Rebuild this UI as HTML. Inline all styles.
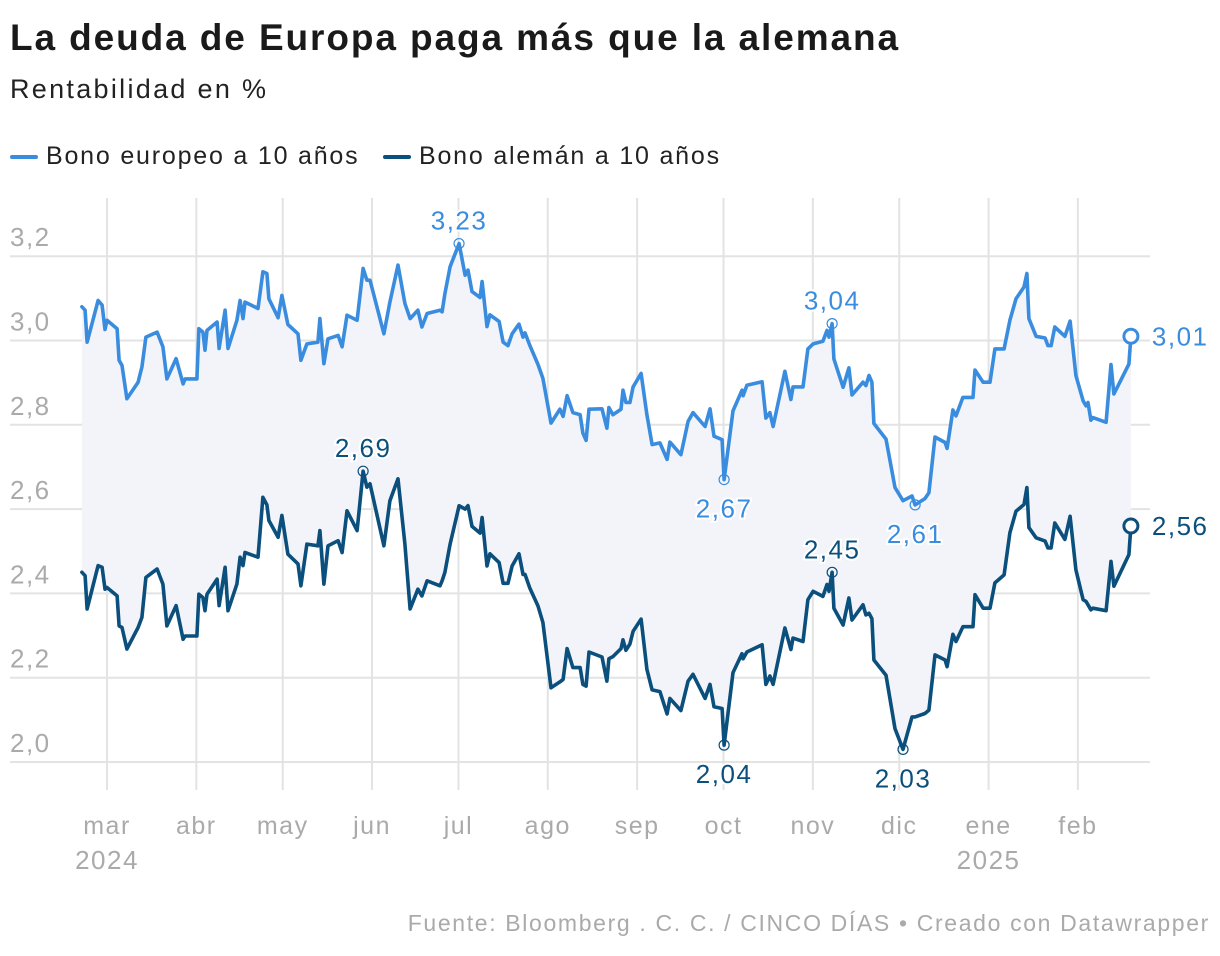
<!DOCTYPE html>
<html><head><meta charset="utf-8">
<style>
body{margin:0;background:#fff;font-family:"Liberation Sans",Arial,sans-serif;}
#wrap{position:relative;width:1220px;height:956px;overflow:hidden;}
h1{position:absolute;left:10px;top:17px;margin:0;font-size:37px;font-weight:bold;color:#1a1a1a;letter-spacing:1.9px}
.sub{position:absolute;left:10px;top:74px;font-size:27px;color:#222;letter-spacing:2.3px}
.leg{position:absolute;top:142px;font-size:25px;color:#222;display:flex;align-items:center;letter-spacing:1.8px}
.sw{display:inline-block;width:28px;height:4px;margin-right:8px;border-radius:2px}
.foot{position:absolute;right:10px;top:910px;font-size:23px;color:#aaa;letter-spacing:1.65px}
</style></head><body>
<div id="wrap">
<h1>La deuda de Europa paga más que la alemana</h1>
<div class="sub">Rentabilidad en %</div>
<div class="leg" style="left:10px"><span class="sw" style="background:#3a8dde"></span>Bono europeo a 10 años</div>
<div class="leg" style="left:383px"><span class="sw" style="background:#0b4f7c"></span>Bono alemán a 10 años</div>
<svg id="chart" width="1220" height="956" style="position:absolute;left:0;top:0"></svg>
<div class="foot">Fuente: Bloomberg . C. C. / CINCO DÍAS • Creado con Datawrapper</div>
</div>
<script>
const days=[-8.7,-7.6,-6.9,-3.1,-1.7,-0.7,0,3.5,4.2,5.2,6.9,10.8,12.1,13.5,17.4,19.4,20.8,24.0,26.4,27.1,31.2,31.9,33.3,34.0,34.7,38.2,38.9,41.0,42.0,45.1,46.2,47.2,47.9,52.4,54.1,55.5,56.2,59.4,60.7,62.8,66.3,67.3,69.4,73.2,73.9,75.3,76.7,80.2,81.6,83.3,86.8,88.9,90.2,91.3,96.1,98.2,101.0,103.4,105.2,107.9,109.3,111.1,115.6,116.3,117.3,119.1,122.2,124.3,125.3,126.7,129.5,130.2,131.9,132.9,136.1,137.5,139.2,140.6,143.0,144.4,145.1,146.8,149.6,151.3,154.1,157.2,158.3,159.7,161.7,164.2,165.2,166.3,167.3,171.8,173.5,174.2,175.6,178.4,179.1,180.1,181.5,182.6,185.4,187.4,189.2,191.9,194.4,195.4,199.2,201.7,203.4,207.6,209.3,210.7,213.5,214.2,217.3,220.4,220.8,222.1,227.4,228.7,230.1,231.2,235.3,237.4,238.1,241.6,243.3,245.1,248.5,249.9,250.6,251.7,252.3,255.5,257.5,258.6,262.4,263.4,264.5,265.5,266.2,270.4,273.5,276.3,279.4,280.5,283.9,285.3,287.4,290.9,291.6,293.6,294.7,297.1,300.6,301.3,304.1,306.5,308.2,311.4,313.4,315.5,318.3,319.3,320.0,322.5,325.6,326.6,327.7,329.0,332.5,334.3,336.3,338.8,339.8,340.5,341.5,342.2,346.8,348.5,349.5,354.7,355.4];
const euro=[3.080,3.072,2.996,3.095,3.084,3.026,3.048,3.028,2.953,2.941,2.862,2.901,2.937,3.008,3.020,2.985,2.909,2.957,2.897,2.909,2.909,3.028,3.020,2.977,3.024,3.044,2.981,3.072,2.981,3.048,3.095,3.052,3.091,3.076,3.163,3.159,3.099,3.054,3.107,3.038,3.016,2.953,2.992,2.996,3.052,2.945,3.004,3.012,2.985,3.060,3.048,3.171,3.143,3.143,3.016,3.091,3.179,3.088,3.052,3.072,3.032,3.064,3.072,3.068,3.111,3.175,3.23,3.155,3.167,3.116,3.102,3.140,3.033,3.061,3.045,2.996,2.988,3.016,3.039,3.008,3.018,2.988,2.943,2.910,2.804,2.837,2.820,2.869,2.829,2.824,2.780,2.763,2.837,2.838,2.792,2.841,2.824,2.837,2.882,2.853,2.853,2.890,2.922,2.824,2.753,2.757,2.718,2.759,2.729,2.808,2.829,2.796,2.838,2.773,2.765,2.67,2.833,2.882,2.869,2.894,2.902,2.816,2.829,2.796,2.927,2.860,2.890,2.890,2.980,2.992,2.998,3.024,3.008,3.04,2.956,2.889,2.935,2.871,2.901,2.893,2.917,2.901,2.803,2.766,2.651,2.620,2.631,2.61,2.625,2.639,2.771,2.758,2.744,2.835,2.821,2.865,2.865,2.930,2.901,2.901,2.980,2.980,3.048,3.099,3.127,3.159,3.052,3.010,3.006,2.988,2.988,3.032,3.010,3.046,2.917,2.857,2.845,2.853,2.811,2.817,2.806,2.943,2.873,2.944,3.01];
const bund=[2.450,2.442,2.363,2.466,2.462,2.410,2.414,2.394,2.323,2.319,2.268,2.319,2.343,2.438,2.458,2.422,2.323,2.371,2.291,2.299,2.299,2.398,2.390,2.359,2.398,2.434,2.371,2.462,2.359,2.422,2.486,2.466,2.497,2.486,2.628,2.610,2.573,2.533,2.585,2.493,2.470,2.418,2.517,2.513,2.549,2.422,2.513,2.525,2.497,2.596,2.549,2.69,2.652,2.660,2.513,2.620,2.672,2.517,2.363,2.410,2.394,2.430,2.418,2.430,2.450,2.517,2.608,2.600,2.608,2.559,2.543,2.580,2.465,2.494,2.473,2.424,2.424,2.465,2.494,2.445,2.445,2.412,2.370,2.331,2.176,2.190,2.196,2.269,2.224,2.224,2.184,2.180,2.261,2.249,2.192,2.245,2.250,2.269,2.290,2.265,2.280,2.310,2.339,2.220,2.171,2.167,2.114,2.151,2.122,2.192,2.208,2.151,2.184,2.131,2.127,2.04,2.212,2.257,2.245,2.261,2.278,2.184,2.204,2.184,2.318,2.267,2.294,2.286,2.385,2.405,2.393,2.421,2.405,2.45,2.365,2.325,2.389,2.337,2.373,2.349,2.353,2.340,2.242,2.206,2.079,2.03,2.107,2.107,2.115,2.123,2.254,2.242,2.226,2.303,2.286,2.321,2.321,2.397,2.365,2.365,2.425,2.444,2.544,2.595,2.611,2.651,2.556,2.532,2.524,2.508,2.508,2.567,2.528,2.583,2.456,2.385,2.381,2.373,2.361,2.365,2.359,2.476,2.417,2.492,2.56];
const yTicks=[2.0,2.2,2.4,2.6,2.8,3.0,3.2];
const yTickLabels=["2,0","2,2","2,4","2,6","2,8","3,0","3,2"];
const monthDays=[0,31,61,92,122,153,184,214,245,275,306,337];
const monthLabels=["mar","abr","may","jun","jul","ago","sep","oct","nov","dic","ene","feb"];
const euroNotes=[[122.2,3.23,"3,23","above"],[214.2,2.67,"2,67","below"],[251.7,3.04,"3,04","above"],[280.5,2.61,"2,61","below"]];
const bundNotes=[[88.9,2.69,"2,69","above"],[214.2,2.04,"2,04","below"],[251.7,2.45,"2,45","above"],[276.3,2.03,"2,03","below"]];

const X=d=>107+d*2.881;
const Y=v=>762-(v-2.0)*421.5;
const svg=document.getElementById('chart');
const NS='http://www.w3.org/2000/svg';
function mk(tag,attrs,parent){const e=document.createElementNS(NS,tag);for(const k in attrs)e.setAttribute(k,attrs[k]);(parent||svg).appendChild(e);return e;}

yTicks.forEach((t,i)=>{
  const l=mk('line',{x1:10,x2:1150,y1:Y(t),y2:Y(t),stroke:'#e3e3e3','stroke-width':2});
  
  
  const tx=mk('text',{x:10,y:Y(t)-10,'font-size':26,fill:'#aaa','letter-spacing':1.5});
  tx.textContent=yTickLabels[i];
  
  
});
monthDays.forEach((d,i)=>{
  const l=mk('line',{x1:X(d),x2:X(d),y1:198,y2:790,stroke:'#e3e3e3','stroke-width':2});
  
  
  const tx=mk('text',{x:X(d),y:834,'font-size':25,fill:'#aaa','text-anchor':'middle','letter-spacing':1.5});
  tx.textContent=monthLabels[i];
  
  
});
[[0,"2024"],[306,"2025"]].forEach(([d,s])=>{
  const tx=mk('text',{x:X(d),y:869,'font-size':26,fill:'#aaa','text-anchor':'middle','letter-spacing':1.5});
  tx.textContent=s;
  
  
});
let ap='';
days.forEach((d,i)=>{ap+=(i?'L':'M')+X(d).toFixed(1)+','+Y(euro[i]).toFixed(1);});
for(let i=days.length-1;i>=0;i--)ap+='L'+X(days[i]).toFixed(1)+','+Y(bund[i]).toFixed(1);
const area=mk('path',{d:ap+'Z',fill:'#f3f4fa'});


function line(vals,color,name){
  let p='';days.forEach((d,i)=>{p+=(i?'L':'M')+X(d).toFixed(1)+','+Y(vals[i]).toFixed(1);});
  const e=mk('path',{d:p,fill:'none',stroke:color,'stroke-width':3.6,'stroke-linejoin':'round','stroke-linecap':'round'});
  
  
}
line(euro,'#3a8dde','europe-bond-line');
line(bund,'#0b4f7c','german-bond-line');
function notes(arr,color,name){
  arr.forEach(n=>{
    const c=mk('circle',{cx:X(n[0]),cy:Y(n[1]),r:5,fill:'none',stroke:color,'stroke-width':1.2});
    
    
    const ty=n[3]==='above'?Y(n[1])-14:Y(n[1])+38;
    const t=mk('text',{x:X(n[0]),y:ty,'font-size':26,fill:color,'text-anchor':'middle','letter-spacing':1.5,stroke:'#fff','stroke-width':4,'paint-order':'stroke'});
    t.textContent=n[2];
    
    
  });
}
notes(euroNotes,'#3a8dde','europe-annotation');
notes(bundNotes,'#0b4f7c','german-annotation');
function endPt(vals,color,label,name){
  const d=days[days.length-1],v=vals[vals.length-1];
  const c=mk('circle',{cx:X(d),cy:Y(v),r:7,fill:'#fff',stroke:color,'stroke-width':3});
  
  
  const t=mk('text',{x:X(d)+21,y:Y(v)+9,'font-size':26,fill:color,'letter-spacing':1.5});
  t.textContent=label;
  
  
}
endPt(euro,'#3a8dde','3,01','europe');
endPt(bund,'#0b4f7c','2,56','german');
</script>
</body></html>
